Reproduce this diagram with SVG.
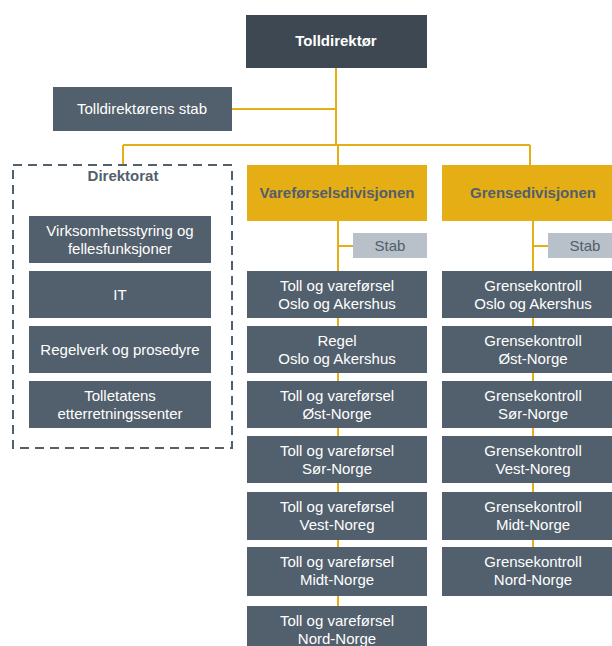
<svg xmlns="http://www.w3.org/2000/svg" width="612" height="646" viewBox="0 0 612 646">
<style>
.box{fill:#525f6c}
.top{fill:#3e4853}
.div{fill:#e5ae14}
.stab{fill:#b8c0c9}
.t{font-family:"Liberation Sans",Arial,sans-serif;font-size:15px;fill:#ffffff;text-anchor:middle}
.b{font-weight:bold}
.d{fill:#525f6c}
.ln{stroke:#e5ae14;stroke-width:2;fill:none}
</style>
<rect width="612" height="646" fill="#ffffff"/>
<g id="connectors">
<path class="ln" d="M336 67V145M232 109H336M123 145H530M123 145V165M338 145V165M530 145V165"/>
<path class="ln" d="M338 221V610M338 246H353"/>
<path class="ln" d="M533 221V550M533 246H548"/>
</g>
<g id="tolldirektor"><rect class="top" x="246" y="15" width="181" height="53"/><text class="t b" x="336" y="46">Tolldirektør</text></g>
<g id="tolldirektorens-stab"><rect class="box" x="53" y="87" width="179" height="44"/><text class="t" x="142" y="114">Tolldirektørens stab</text></g>
<g id="direktorat">
<rect x="13" y="165" width="219" height="283" fill="none" stroke="#525f6c" stroke-width="2" stroke-dasharray="9,6"/>
<text class="t b d" x="123" y="181">Direktorat</text>
</g>
<g id="virksomhetsstyring"><rect class="box" x="29" y="216" width="182" height="47"/><text class="t" x="120" y="236">Virksomhetsstyring og</text><text class="t" x="120" y="254">fellesfunksjoner</text></g>
<g id="it"><rect class="box" x="29" y="271" width="182" height="47"/><text class="t" x="120" y="300">IT</text></g>
<g id="regelverk"><rect class="box" x="29" y="326" width="182" height="47"/><text class="t" x="120" y="355">Regelverk og prosedyre</text></g>
<g id="etterretning"><rect class="box" x="29" y="381" width="182" height="47"/><text class="t" x="120" y="401">Tolletatens</text><text class="t" x="120" y="419">etterretningssenter</text></g>
<g id="vareforselsdivisjonen"><rect class="div" x="247" y="165" width="180" height="56"/><text class="t b d" x="337" y="198">Vareførselsdivisjonen</text></g>
<g id="grensedivisjonen"><rect class="div" x="442" y="165" width="180" height="56"/><text class="t b d" x="533" y="198">Grensedivisjonen</text></g>
<g id="stab-v"><rect class="stab" x="353" y="233" width="74" height="25"/><text class="t d" x="390" y="251">Stab</text></g>
<g id="stab-g"><rect class="stab" x="548" y="233" width="74" height="25"/><text class="t d" x="585" y="251">Stab</text></g>
<g id="v1"><rect class="box" x="247" y="271" width="180" height="47"/><text class="t" x="337" y="291">Toll og vareførsel</text><text class="t" x="337" y="309">Oslo og Akershus</text></g>
<g id="v2"><rect class="box" x="247" y="326" width="180" height="47"/><text class="t" x="337" y="346">Regel</text><text class="t" x="337" y="364">Oslo og Akershus</text></g>
<g id="v3"><rect class="box" x="247" y="381" width="180" height="47"/><text class="t" x="337" y="401">Toll og vareførsel</text><text class="t" x="337" y="419">Øst-Norge</text></g>
<g id="v4"><rect class="box" x="247" y="436" width="180" height="47"/><text class="t" x="337" y="456">Toll og vareførsel</text><text class="t" x="337" y="474">Sør-Norge</text></g>
<g id="v5"><rect class="box" x="247" y="492" width="180" height="48"/><text class="t" x="337" y="512">Toll og vareførsel</text><text class="t" x="337" y="530">Vest-Noreg</text></g>
<g id="v6"><rect class="box" x="247" y="547" width="180" height="49"/><text class="t" x="337" y="567">Toll og vareførsel</text><text class="t" x="337" y="585">Midt-Norge</text></g>
<g id="v7"><rect class="box" x="247" y="606" width="180" height="47"/><text class="t" x="337" y="626">Toll og vareførsel</text><text class="t" x="337" y="644">Nord-Norge</text></g>
<g id="g1"><rect class="box" x="442" y="271" width="180" height="47"/><text class="t" x="533" y="291">Grensekontroll</text><text class="t" x="533" y="309">Oslo og Akershus</text></g>
<g id="g2"><rect class="box" x="442" y="326" width="180" height="47"/><text class="t" x="533" y="346">Grensekontroll</text><text class="t" x="533" y="364">Øst-Norge</text></g>
<g id="g3"><rect class="box" x="442" y="381" width="180" height="47"/><text class="t" x="533" y="401">Grensekontroll</text><text class="t" x="533" y="419">Sør-Norge</text></g>
<g id="g4"><rect class="box" x="442" y="436" width="180" height="47"/><text class="t" x="533" y="456">Grensekontroll</text><text class="t" x="533" y="474">Vest-Noreg</text></g>
<g id="g5"><rect class="box" x="442" y="492" width="180" height="48"/><text class="t" x="533" y="512">Grensekontroll</text><text class="t" x="533" y="530">Midt-Norge</text></g>
<g id="g6"><rect class="box" x="442" y="547" width="180" height="49"/><text class="t" x="533" y="567">Grensekontroll</text><text class="t" x="533" y="585">Nord-Norge</text></g>
</svg>
